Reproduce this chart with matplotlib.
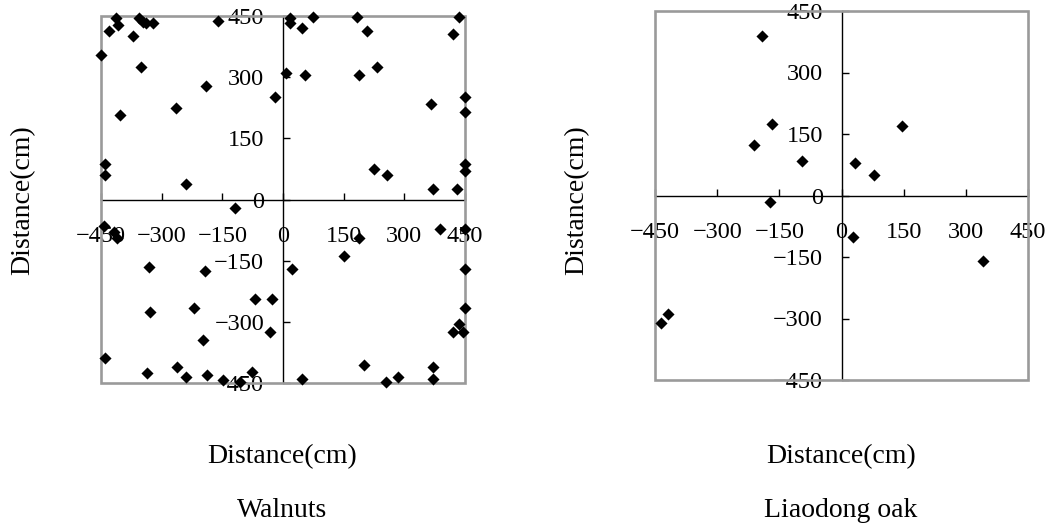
import matplotlib
matplotlib.use("Agg")
import matplotlib.pyplot as plt
from matplotlib.patches import Rectangle

plt.rcParams['font.family'] = ['Liberation Serif', 'DejaVu Serif']

# --- data (cm) ---
walnut_x = [-413, -355, -347, -339, -322, -409, -430, -372, -161, -450, -351, -190, -21, -264, -403, -440, -440, -241,
            17, 18, 74, 48, 183, 208, 436, 420, 7, 54, 188, 232, 365, 450, 450, 226, 258, 450, 450, 370, 430,
            -118, -442, -417, -411, -332, -192, -70, -27, -219, -328, -33, -198, -440, -337, -263, -241, -188, -149, -106, -76,
            188, 150, 22, 388, 450, 450, 450, 436, 420, 446, 200, 370, 48, 254, 285, 370]
walnut_y = [444, 444, 436, 432, 432, 428, 412, 402, 438, 354, 326, 278, 252, 225, 208, 88, 61, 39,
            445, 432, 448, 421, 448, 412, 448, 406, 311, 305, 305, 326, 235, 252, 215, 75, 61, 88, 70, 26, 26,
            -20, -64, -80, -94, -165, -176, -244, -244, -266, -275, -324, -345, -388, -426, -410, -435, -430, -443, -447, -424,
            -95, -138, -170, -72, -72, -170, -266, -306, -324, -324, -406, -410, -441, -447, -435, -441]

oak_x = [-192, -167, -210, -95, -172, 147, 32, 79, -435, -418, 27, 341]
oak_y = [390, 174, 122, 83, -16, 169, 80, 49, -312, -289, -101, -160]

ticks = [-450, -300, -150, 0, 150, 300, 450]
tick_labels = ['\u2212450', '\u2212300', '\u2212150', '0', '150', '300', '450']

panels = [
    (walnut_x, walnut_y, 'Walnuts', [101 / 1049, 1 - 383 / 523, 364 / 1049, 367 / 523], 0.2693, 0.022),
    (oak_x, oak_y, 'Liaodong oak', [655 / 1049, 1 - 380 / 523, 373 / 1049, 369 / 523], 0.8017, 0.550),
]

fig = plt.figure(figsize=(10.49, 5.23), dpi=100)

for xs, ys, name, rect, xc, ylx in panels:
    ax = fig.add_axes(rect)
    ax.set_xlim(-450, 450)
    ax.set_ylim(-450, 450)

    # axes cross at zero, Excel style
    ax.spines['left'].set_position('zero')
    ax.spines['bottom'].set_position('zero')
    ax.spines['top'].set_visible(False)
    ax.spines['right'].set_visible(False)
    for s in ('left', 'bottom'):
        ax.spines[s].set_linewidth(1.0)
        ax.spines[s].set_color('black')

    ax.set_xticks(ticks)
    ax.set_yticks(ticks)
    ax.set_xticklabels(tick_labels)
    ax.set_yticklabels(tick_labels)
    ax.tick_params(axis='both', direction='in', length=5, width=1.0, labelsize=17.5)
    ax.tick_params(axis='x', pad=19)
    ax.tick_params(axis='y', pad=13.5)

    # gray plot-area frame
    ax.add_patch(Rectangle((0, 0), 1, 1, transform=ax.transAxes, fill=False,
                           edgecolor='#9a9a9a', linewidth=1.9, clip_on=False, zorder=2.6))

    ax.scatter(xs, ys, marker='D', s=38, color='black', linewidths=0, zorder=3, clip_on=False)

    fig.text(xc, 0.114, 'Distance(cm)', ha='center', va='baseline', fontsize=20)
    fig.text(xc, 0.0115, name, ha='center', va='baseline', fontsize=20)
    fig.text(ylx, 0.6176, 'Distance(cm)', ha='center', va='center', rotation=90, fontsize=20)

fig.savefig('out.png', dpi=100)
